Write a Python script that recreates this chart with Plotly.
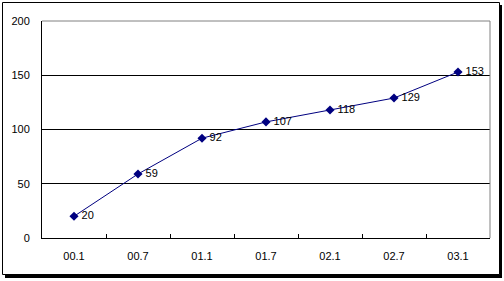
import plotly.graph_objects as go

categories = ["00.1", "00.7", "01.1", "01.7", "02.1", "02.7", "03.1"]
values = [20, 59, 92, 107, 118, 129, 153]
y_ticks = [0, 50, 100, 150, 200]

W, H = 504, 281
L, R, T, B = 42, 490, 21, 238
pw, ph = R - L, B - T

def px(x):
    return (x - L) / pw

def py(y):
    return (B - y) / ph

font = dict(family="Liberation Sans, Arial, sans-serif", size=11, color="black")

fig = go.Figure()
fig.add_trace(go.Scatter(
    x=categories, y=values, mode="lines+markers+text",
    line=dict(color="#000080", width=1),
    marker=dict(symbol="diamond", size=7, color="#000080"),
    text=["\u2009" + str(v) for v in values], textposition="middle right",
    textfont=font, cliponaxis=False, showlegend=False,
))

shapes = [
    # shadow
    dict(type="rect", xref="paper", yref="paper", layer="below",
         x0=px(5), x1=px(502), y0=py(278), y1=py(5),
         fillcolor="black", line=dict(width=0)),
    # frame
    dict(type="rect", xref="paper", yref="paper", layer="below",
         x0=px(2.5), x1=px(499.5), y0=py(274.5), y1=py(2.5),
         fillcolor="white", line=dict(color="black", width=1)),
    # gray top and right plot borders
    dict(type="line", xref="paper", yref="paper", layer="above",
         x0=0, x1=1, y0=1, y1=1, line=dict(color="#808080", width=1)),
    dict(type="line", xref="paper", yref="paper", layer="above",
         x0=1, x1=1, y0=0, y1=1, line=dict(color="#808080", width=1)),
]

fig.update_layout(
    width=W, height=H,
    margin=dict(l=L, r=W - R, t=T, b=H - B, pad=0),
    paper_bgcolor="white", plot_bgcolor="white",
    font=font, shapes=shapes,
    xaxis=dict(
        type="category", categoryorder="array", categoryarray=categories,
        range=[-0.5, 6.5], tickson="boundaries", ticks="inside", ticklen=4,
        tickcolor="black", showline=True, linecolor="black", linewidth=1,
        showgrid=False, zeroline=False, ticklabelstandoff=8, tickfont=font,
    ),
    yaxis=dict(
        range=[0, 200], tickvals=y_ticks, showline=True, linecolor="black",
        linewidth=1, showgrid=True, gridcolor="black", gridwidth=1,
        zeroline=False, ticks="", ticklabelstandoff=9, tickfont=font,
    ),
)

fig.write_html("out.html")
